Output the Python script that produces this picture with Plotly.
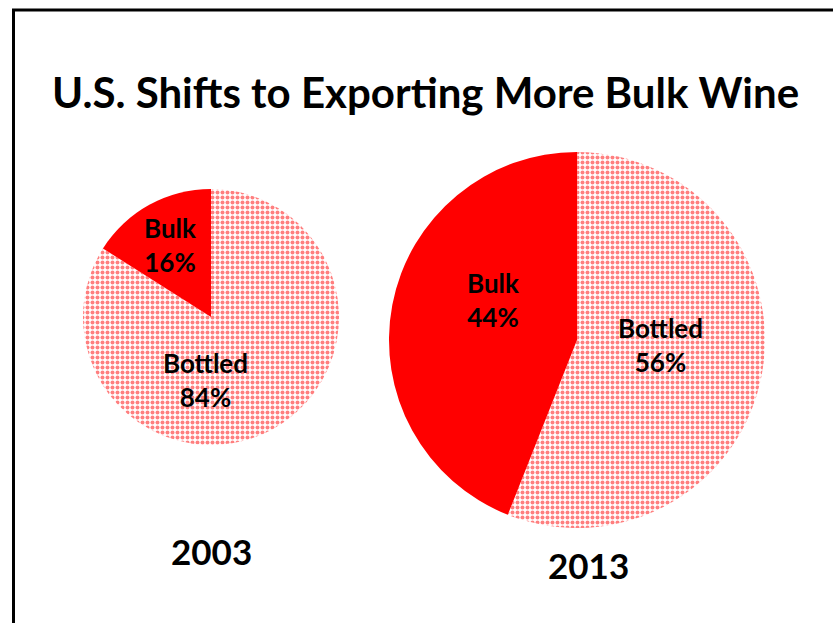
import plotly.graph_objects as go

W, H = 833, 623
categories = ["Bottled", "Bulk"]
values_2003 = [84, 16]
values_2013 = [56, 44]
years = ["2003", "2013"]
title = "U.S. Shifts to Exporting More Bulk Wine"

RED = "#FF0000"

def px(x): return x / W
def py(y): return 1 - y / H

fig = go.Figure()

pies = [
    (values_2003, (211, 317), 128),
    (values_2013, (577, 340), 188),
]

for vals, (cx, cy), r in pies:
    fig.add_trace(go.Pie(
        labels=categories, values=vals, sort=False, direction="clockwise",
        rotation=0, textinfo="none", hoverinfo="label+percent",
        marker=dict(colors=["white", RED],
                    line=dict(width=0),
                    pattern=dict(shape=[".", ""], fgcolor=RED, bgcolor="white",
                                 size=5, solidity=0.5, fillmode="overlay")),
        domain=dict(x=[px(cx - r), px(cx + r)], y=[py(cy + r), py(cy - r)]),
        showlegend=False,
    ))

# slice labels (Bottled, Bulk)
label_pos = [
    [(205, 380), (170, 245)],
    [(660, 345), (493, 300)],
]
font_lbl = dict(family="Lato", size=26, color="black")
for vals, pos in zip([values_2003, values_2013], label_pos):
    for cat, v, (x, y) in zip(categories, vals, pos):
        fig.add_annotation(x=px(x), y=py(y), xref="paper", yref="paper",
                           xanchor="center", yanchor="middle",
                           text=f"<b>{cat}<br>{v}%</b>", showarrow=False,
                           font=font_lbl, align="center")

for yr, (x, y) in zip(years, [(211, 551), (588, 565)]):
    fig.add_annotation(x=px(x), y=py(y), xref="paper", yref="paper",
                       xanchor="center", yanchor="middle",
                       text=f"<b>{yr}</b>", showarrow=False,
                       font=dict(family="Lato", size=35, color="black"))

fig.add_annotation(x=px(425), y=py(92), xref="paper", yref="paper",
                   xanchor="center", yanchor="middle",
                   text=f"<b>{title}</b>", showarrow=False,
                   font=dict(family="Lato", size=42, color="black"))

fig.add_shape(type="rect", xref="paper", yref="paper",
              x0=px(13.5), x1=px(850), y0=py(650), y1=py(10),
              line=dict(color="black", width=3))

fig.update_layout(width=W, height=H, margin=dict(l=0, r=0, t=0, b=0),
                  paper_bgcolor="white", plot_bgcolor="white")
fig.write_html("out.html")
